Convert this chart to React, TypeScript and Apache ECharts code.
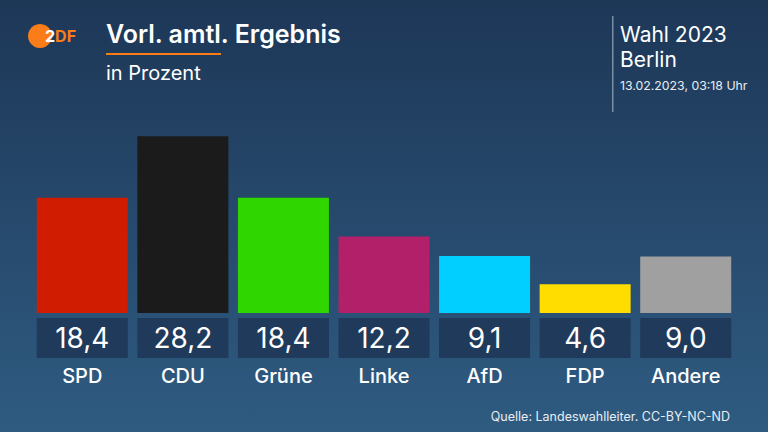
import React, { useEffect, useRef } from "react";
import * as echarts from "echarts";

const parties = ["SPD", "CDU", "Grüne", "Linke", "AfD", "FDP", "Andere"];
const shares = [18.4, 28.2, 18.4, 12.2, 9.1, 4.6, 9.0];
const partyColors = ["#d01c00", "#1b1b1b", "#2fd600", "#b3206a", "#00cfff", "#ffdd00", "#a0a0a0"];

const FONT = "Inter, 'Noto Sans', sans-serif";

export default function App() {
  const ref = useRef<HTMLDivElement>(null);
  useEffect(() => {
    document.body.style.margin = "0";
    const chart = echarts.init(ref.current!, null, { renderer: "svg" });
    chart.setOption({
      animation: false,
      backgroundColor: {
        type: "linear", x: 0, y: 0, x2: 0, y2: 1,
        colorStops: [
          { offset: 0, color: "#1d3757" },
          { offset: 1, color: "#2f5b81" },
        ],
      },
      grid: { left: 32, right: 32, top: 125, bottom: 119 },
      xAxis: {
        type: "category",
        data: parties,
        axisLine: { show: false },
        axisTick: { show: false },
        axisLabel: {
          interval: 0,
          margin: 5,
          formatter: (v: string, i: number) =>
            `{box|${shares[i].toFixed(1).replace(".", ",")}}\n{name|${v}}`,
          rich: {
            box: {
              width: 91,
              height: 40,
              lineHeight: 40,
              backgroundColor: "#1f3a5a",
              color: "#ffffff",
              fontSize: 28,
              fontFamily: FONT,
              align: "center",
            },
            name: {
              color: "#ffffff",
              fontSize: 20,
              fontWeight: 500,
              fontFamily: FONT,
              lineHeight: 36,
              align: "center",
            },
          },
        },
      },
      yAxis: {
        type: "value",
        min: 0,
        max: 30,
        show: false,
        splitLine: { show: false },
      },
      series: [
        {
          type: "bar",
          barWidth: 91,
          data: shares.map((v, i) => ({ value: v, itemStyle: { color: partyColors[i] } })),
        },
      ],
      graphic: [
        { type: "circle", shape: { cx: 40, cy: 36, r: 12 }, style: { fill: "#fa7d19" } },
        {
          type: "text", x: 45, y: 36,
          style: {
            text: "{w|2}{o|DF}", verticalAlign: "middle",
            rich: {
              w: { fill: "#ffffff", fontSize: 16, fontWeight: "bold", fontFamily: FONT },
              o: { fill: "#fa7d19", fontSize: 16, fontWeight: "bold", fontFamily: FONT },
            },
          },
        },
        {
          type: "text", x: 106, y: 34,
          style: { text: "Vorl. amtl. Ergebnis", fill: "#ffffff", fontSize: 25, fontWeight: 600, fontFamily: FONT, verticalAlign: "middle" },
        },
        { type: "rect", shape: { x: 106, y: 53, width: 115, height: 2 }, style: { fill: "#fa7d19" } },
        {
          type: "text", x: 106, y: 73,
          style: { text: "in Prozent", fill: "#ffffff", fontSize: 20, fontFamily: FONT, verticalAlign: "middle" },
        },
        { type: "rect", shape: { x: 612, y: 16, width: 1.5, height: 96 }, style: { fill: "#7a8ea6" } },
        {
          type: "text", x: 620, y: 34,
          style: { text: "Wahl 2023", fill: "#ffffff", fontSize: 21, fontFamily: FONT, verticalAlign: "middle" },
        },
        {
          type: "text", x: 620, y: 59,
          style: { text: "Berlin", fill: "#ffffff", fontSize: 21, fontFamily: FONT, verticalAlign: "middle" },
        },
        {
          type: "text", x: 620, y: 85,
          style: { text: "13.02.2023, 03:18 Uhr", fill: "#e8edf2", fontSize: 12.3, fontFamily: FONT, verticalAlign: "middle" },
        },
        {
          type: "text", x: 730, y: 416,
          style: { text: "Quelle: Landeswahlleiter. CC-BY-NC-ND", fill: "#e8edf2", fontSize: 12.5, fontFamily: FONT, align: "right", verticalAlign: "middle" },
        },
      ],
    });
    return () => chart.dispose();
  }, []);
  return <div ref={ref} style={{ width: 768, height: 432 }} />;
}
